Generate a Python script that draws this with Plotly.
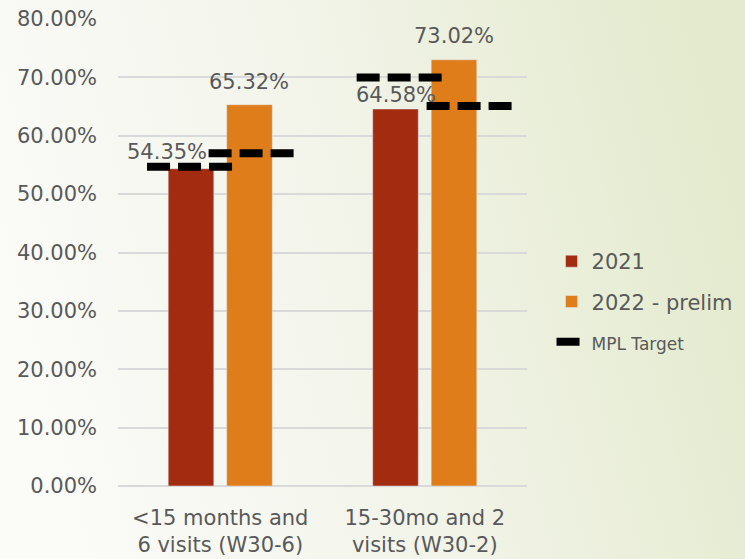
import base64
import plotly.graph_objects as go

# Chart data
categories = ["<15 months and<br>6 visits (W30-6)", "15-30mo and 2<br>visits (W30-2)"]
rates_2021 = [0.5435, 0.6458]
rates_2022 = [0.6532, 0.7302]
target_2021 = [0.547, 0.700]
target_2022 = [0.570, 0.651]
y_ticks = [0.0, 0.1, 0.2, 0.3, 0.4, 0.5, 0.6, 0.7, 0.8]

RED = "#A32B10"
ORANGE = "#DE7D1A"
TEXT = "#595959"
FONT = "DejaVu Sans"
FS = 21

W, H = 745, 559
ML, MR, MT, MB = 118, 218, 19, 73

x_pos = list(range(len(categories)))

fig = go.Figure()

fig.add_trace(go.Bar(x=x_pos, y=rates_2021, name="2021", marker_color=RED,
                     legendgroup="a"))
fig.add_trace(go.Bar(x=x_pos, y=rates_2022, name="2022 - prelim", marker_color=ORANGE,
                     legendgroup="b"))

# dashed target segments drawn across each bar
seg_offsets_2021 = [-0.148, -0.123]
seg_offsets_2022 = [0.153, 0.219]
half_len = 0.21
tx, ty = [], []
for i in x_pos:
    for off, val in ((seg_offsets_2021[i], target_2021[i]), (seg_offsets_2022[i], target_2022[i])):
        tx += [i + off - half_len, i + off + half_len, None]
        ty += [val, val, None]
fig.add_trace(go.Scatter(x=tx, y=ty, mode="lines",
                         name="<span style='font-size:17px'>MPL Target</span>",
                         line=dict(color="black", width=8, dash="23px,8px"),
                         legendgroup="c", hoverinfo="skip"))

# value labels above bars
bar_offset = 0.143
label_shift = {(0, 0): (-24, 3), (0, 1): (0, 9), (1, 0): (0, 0), (1, 1): (0, 10)}
for s, vals in enumerate((rates_2021, rates_2022)):
    for i, v in enumerate(vals):
        dx, dy = label_shift[(i, s)]
        fig.add_annotation(x=i + (-bar_offset if s == 0 else bar_offset), y=v,
                           text=f"{v*100:.2f}%", showarrow=False, yanchor="bottom",
                           xshift=dx, yshift=dy,
                           font=dict(family=FONT, size=FS, color=TEXT))

# soft white-to-green page background
svg = f"""<svg xmlns='http://www.w3.org/2000/svg' width='{W}' height='{H}' preserveAspectRatio='none'>
<defs><linearGradient id='g' x1='0' y1='0.6' x2='1' y2='0.4'>
<stop offset='0' stop-color='#FBFBF8'/><stop offset='0.45' stop-color='#F3F5EB'/>
<stop offset='1' stop-color='#E3EACD'/></linearGradient></defs>
<rect width='{W}' height='{H}' fill='url(#g)'/></svg>"""
src = "data:image/svg+xml;base64," + base64.b64encode(svg.encode()).decode()
pw, ph = W - ML - MR, H - MT - MB
fig.add_layout_image(source=src, xref="paper", yref="paper",
                     x=-ML / pw, y=1 + MT / ph, sizex=W / pw, sizey=H / ph,
                     xanchor="left", yanchor="top", sizing="stretch", layer="below")

fig.update_layout(
    width=W, height=H,
    margin=dict(l=ML, r=MR, t=MT, b=MB, autoexpand=False),
    paper_bgcolor="#FFFFFF", plot_bgcolor="rgba(0,0,0,0)",
    barmode="group", bargap=0.428, bargroupgap=0.22,
    font=dict(family=FONT, size=FS, color=TEXT),
    showlegend=True,
    legend=dict(x=1.06, xanchor="left", y=0.395, yanchor="middle",
                bgcolor="rgba(0,0,0,0)", font=dict(family=FONT, size=FS, color=TEXT),
                tracegroupgap=10, itemwidth=30),
    xaxis=dict(range=[-0.5, 1.5], tickvals=x_pos, ticktext=categories,
               showgrid=False, zeroline=False, showline=False, ticks="",
               automargin=False, ticklabelstandoff=17,
               tickfont=dict(family=FONT, size=FS, color=TEXT)),
    yaxis=dict(range=[0, 0.8], tickvals=y_ticks, tickformat=".2%",
               showgrid=True, gridcolor="#D9D9D9", gridwidth=1.5,
               zeroline=True, zerolinecolor="#D9D9D9", zerolinewidth=1.5,
               showline=False, ticks="", ticklabelstandoff=20, automargin=False,
               tickfont=dict(family=FONT, size=FS, color=TEXT)),
)

fig.write_html("out.html")
